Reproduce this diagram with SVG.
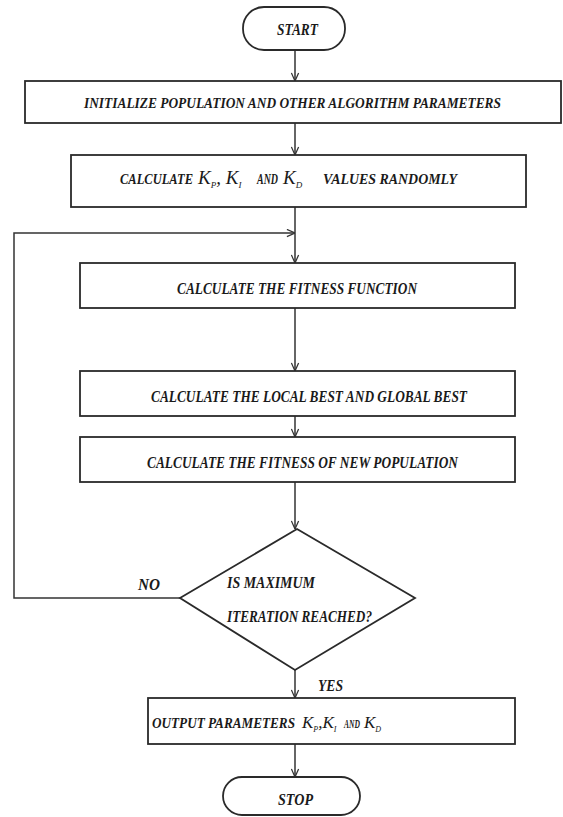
<svg xmlns="http://www.w3.org/2000/svg" width="563" height="817" viewBox="0 0 563 817">
<style>
.box{fill:#fff;stroke:#2a2a2a;stroke-width:1.8}
.ln{fill:none;stroke:#333;stroke-width:1.5}
.t{font-family:"Liberation Serif",serif;font-style:italic;fill:#1a1a1a;font-weight:bold}
.k{font-family:"Liberation Serif",serif;font-style:italic;fill:#1a1a1a}
</style>
<defs>
<marker id="arr" viewBox="0 0 10 10" refX="10" refY="5" markerWidth="9" markerHeight="9" markerUnits="userSpaceOnUse" orient="auto">
<path d="M1,1 L10,5 L1,9" fill="none" stroke="#333" stroke-width="1.4"/>
</marker>
</defs>
<rect width="563" height="817" fill="#fff"/>
<g id="connectors">
<line class="ln" x1="295" y1="50" x2="295" y2="81" marker-end="url(#arr)"/>
<line class="ln" x1="295" y1="123" x2="295" y2="155" marker-end="url(#arr)"/>
<line class="ln" x1="295" y1="207" x2="295" y2="263" marker-end="url(#arr)"/>
<polyline class="ln" points="180,598 14,598 14,233 295,233" marker-end="url(#arr)"/>
<line class="ln" x1="295" y1="308" x2="295" y2="371" marker-end="url(#arr)"/>
<line class="ln" x1="295" y1="416" x2="295" y2="437" marker-end="url(#arr)"/>
<line class="ln" x1="295" y1="482" x2="295" y2="529" marker-end="url(#arr)"/>
<line class="ln" x1="295" y1="670" x2="295" y2="698" marker-end="url(#arr)"/>
<line class="ln" x1="295" y1="744" x2="295" y2="777" marker-end="url(#arr)"/>
<text class="t" x="138" y="590" font-size="16" textLength="22" lengthAdjust="spacingAndGlyphs">NO</text>
<text class="t" x="318" y="691" font-size="16" textLength="25" lengthAdjust="spacingAndGlyphs">YES</text>
</g>
<g id="start">
<rect class="box" x="243" y="7" width="102" height="43" rx="21"/>
<text class="t" x="277" y="35" font-size="16" textLength="41" lengthAdjust="spacingAndGlyphs">START</text>
</g>
<g id="init">
<rect class="box" x="25" y="81" width="536" height="42"/>
<text class="t" x="84" y="108" font-size="14" textLength="417" lengthAdjust="spacingAndGlyphs">INITIALIZE POPULATION AND OTHER ALGORITHM PARAMETERS</text>
</g>
<g id="calc-k">
<rect class="box" x="71" y="155" width="455" height="52"/>
<text class="k" x="120" y="184" font-size="19"><tspan class="t" font-size="14" textLength="73" lengthAdjust="spacingAndGlyphs">CALCULATE</tspan><tspan x="198">K</tspan><tspan font-size="9" dy="4">P</tspan><tspan dy="-4">, K</tspan><tspan font-size="9" dy="4">I</tspan><tspan class="t" x="257" dy="-4" font-size="14" textLength="21" lengthAdjust="spacingAndGlyphs">AND</tspan><tspan x="283">K</tspan><tspan font-size="9" dy="4">D</tspan><tspan class="t" x="323" dy="-4" font-size="14" textLength="134" lengthAdjust="spacingAndGlyphs">VALUES RANDOMLY</tspan></text>
</g>
<g id="fitness">
<rect class="box" x="80" y="263" width="435" height="45"/>
<text class="t" x="177" y="294" font-size="17" textLength="240" lengthAdjust="spacingAndGlyphs">CALCULATE THE FITNESS FUNCTION</text>
</g>
<g id="best">
<rect class="box" x="80" y="371" width="435" height="45"/>
<text class="t" x="151" y="402" font-size="17" textLength="316" lengthAdjust="spacingAndGlyphs">CALCULATE THE LOCAL BEST AND GLOBAL BEST</text>
</g>
<g id="newpop">
<rect class="box" x="80" y="437" width="435" height="45"/>
<text class="t" x="147" y="468" font-size="17" textLength="311" lengthAdjust="spacingAndGlyphs">CALCULATE THE FITNESS OF NEW POPULATION</text>
</g>
<g id="decision">
<polygon class="box" points="297,529 415,598 295,670 180,598"/>
<text class="t" x="227" y="588" font-size="16" textLength="88" lengthAdjust="spacingAndGlyphs">IS MAXIMUM</text>
<text class="t" x="227" y="622" font-size="16" textLength="145" lengthAdjust="spacingAndGlyphs">ITERATION REACHED?</text>
</g>
<g id="output">
<rect class="box" x="148" y="698" width="367" height="46"/>
<text class="k" x="152" y="728" font-size="17"><tspan class="t" font-size="15" textLength="143" lengthAdjust="spacingAndGlyphs">OUTPUT PARAMETERS</tspan><tspan x="302">K</tspan><tspan font-size="8" dy="4">P</tspan><tspan dy="-4">,K</tspan><tspan font-size="8" dy="4">I</tspan><tspan class="t" x="344" dy="-4" font-size="13" textLength="16" lengthAdjust="spacingAndGlyphs">AND</tspan><tspan x="364">K</tspan><tspan font-size="8" dy="4">D</tspan></text>
</g>
<g id="stop">
<rect class="box" x="223" y="777" width="137" height="38" rx="19"/>
<text class="t" x="278" y="805" font-size="16" textLength="35" lengthAdjust="spacingAndGlyphs">STOP</text>
</g>
</svg>
